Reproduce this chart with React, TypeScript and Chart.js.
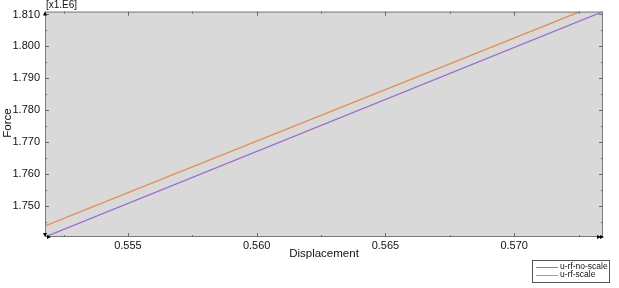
import { useEffect, useRef } from 'react';
import { Chart, registerables } from 'chart.js';

Chart.register(...registerables);

const seriesNames = ['u-rf-no-scale', 'u-rf-scale'];
const purpleDisp = [0.55178, 0.57345];
const purpleForce = [1.7403e6, 1.8109e6];
const orangeDisp = [0.55178, 0.57256];
const orangeForce = [1.7438e6, 1.8109e6];

const xMajorTicks = [0.555, 0.56, 0.565, 0.57];
const xMinorTicks = [0.5525, 0.5575, 0.5625, 0.5675, 0.5725];
const xTickLabels = ['0.555', '0.560', '0.565', '0.570'];
const yMajorTicks = [1.75e6, 1.76e6, 1.77e6, 1.78e6, 1.79e6, 1.8e6, 1.81e6];
const yMinorTicks = [1.745e6, 1.755e6, 1.765e6, 1.775e6, 1.785e6, 1.795e6, 1.805e6];
const yTickLabels = ['1.750', '1.760', '1.770', '1.780', '1.790', '1.800', '1.810'];

const xRange = [0.55178, 0.57345];
const yRange = [1.7403e6, 1.8109e6];

const colors = ['#9a6ccb', '#e28c55'];
const FONT = "'Liberation Sans', Arial, sans-serif";

const decorPlugin = {
  id: 'decor',
  beforeDatasetsDraw(chart: any) {
    const { ctx, chartArea: a } = chart;
    ctx.save();
    ctx.fillStyle = '#d9d9d9';
    ctx.fillRect(a.left, a.top, a.right - a.left, a.bottom - a.top);
    ctx.restore();
  },
  afterDraw(chart: any) {
    const { ctx, chartArea: a } = chart;
    const xs = chart.scales.x;
    const ys = chart.scales.y;
    ctx.save();
    // border
    ctx.strokeStyle = '#7a7a7a';
    ctx.lineWidth = 1;
    ctx.strokeRect(a.left + 0.5, a.top + 0.5, a.right - a.left - 1, a.bottom - a.top - 1);
    // ticks
    const tick = (vals: number[], len: number) => {
      ctx.beginPath();
      for (const v of vals) {
        const px = Math.round(xs.getPixelForValue(v)) + 0.5;
        ctx.moveTo(px, a.bottom);
        ctx.lineTo(px, a.bottom - len);
        ctx.moveTo(px, a.top);
        ctx.lineTo(px, a.top + len);
      }
      ctx.stroke();
    };
    const tickY = (vals: number[], len: number) => {
      ctx.beginPath();
      for (const v of vals) {
        const py = Math.round(ys.getPixelForValue(v)) + 0.5;
        ctx.moveTo(a.left, py);
        ctx.lineTo(a.left + len, py);
        ctx.moveTo(a.right, py);
        ctx.lineTo(a.right - len, py);
      }
      ctx.stroke();
    };
    ctx.strokeStyle = '#6a6a6a';
    tick(xMajorTicks, 4);
    tick(xMinorTicks, 2);
    tickY(yMajorTicks, 4);
    tickY(yMinorTicks, 2);

    // corner markers
    ctx.fillStyle = '#000';
    const tri = (pts: number[][]) => {
      ctx.beginPath();
      ctx.moveTo(pts[0][0], pts[0][1]);
      for (let i = 1; i < pts.length; i++) ctx.lineTo(pts[i][0], pts[i][1]);
      ctx.closePath();
      ctx.fill();
    };
    const L = a.left, B = a.bottom, R = a.right, T = a.top;
    tri([[L - 2, T + 4], [L + 2, T + 4], [L, T]]);
    tri([[L - 2, B - 4], [L + 2, B - 4], [L, B]]);
    tri([[L + 2, B - 2], [L + 2, B + 2], [L + 6, B]]);
    tri([[R - 6, B - 2], [R - 6, B + 2], [R - 2, B]]);
    tri([[R - 3, B - 2], [R - 3, B + 2], [R + 1, B]]);

    // scale factor label
    ctx.fillStyle = '#111';
    ctx.font = `10px ${FONT}`;
    ctx.textAlign = 'left';
    ctx.textBaseline = 'middle';
    ctx.fillText('[x1.E6]', a.left + 1, 5);

    // axis titles
    ctx.font = `11.5px ${FONT}`;
    ctx.textAlign = 'center';
    ctx.textBaseline = 'middle';
    ctx.fillText('Displacement', (a.left + a.right) / 2, 254);
    ctx.save();
    ctx.translate(8, 123);
    ctx.rotate(-Math.PI / 2);
    ctx.fillText('Force', 0, 0);
    ctx.restore();

    // legend
    const bx = 532, by = 260, bw = 78, bh = 23;
    ctx.fillStyle = '#ffffff';
    ctx.fillRect(bx, by, bw, bh);
    ctx.strokeStyle = '#555';
    ctx.strokeRect(bx + 0.5, by + 0.5, bw - 1, bh - 1);
    ctx.font = `8.5px ${FONT}`;
    ctx.textAlign = 'left';
    ctx.textBaseline = 'middle';
    seriesNames.forEach((name, i) => {
      const yy = by + 7 + i * 8;
      ctx.strokeStyle = colors[i];
      ctx.lineWidth = 1;
      ctx.beginPath();
      ctx.moveTo(bx + 4, yy + 0.5);
      ctx.lineTo(bx + 26, yy + 0.5);
      ctx.stroke();
      ctx.fillStyle = '#111';
      ctx.fillText(name, bx + 28, yy);
    });
    ctx.restore();
  },
};

export default function App() {
  const ref = useRef<HTMLCanvasElement | null>(null);
  useEffect(() => {
    if (!ref.current) return;
    const chart = new Chart(ref.current, {
      type: 'line',
      data: {
        datasets: [
          {
            label: seriesNames[0],
            data: purpleDisp.map((x, i) => ({ x, y: purpleForce[i] })),
            borderColor: colors[0],
            borderWidth: 1.2,
            pointRadius: 0,
            tension: 0,
          },
          {
            label: seriesNames[1],
            data: orangeDisp.map((x, i) => ({ x, y: orangeForce[i] })),
            borderColor: colors[1],
            borderWidth: 1.2,
            pointRadius: 0,
            tension: 0,
          },
        ],
      },
      options: {
        animation: false,
        responsive: false,
        maintainAspectRatio: false,
        layout: { padding: { left: 0, top: 11, right: 16, bottom: 0 } },
        plugins: { legend: { display: false }, tooltip: { enabled: false } },
        scales: {
          x: {
            type: 'linear',
            min: xRange[0],
            max: xRange[1],
            grid: { display: false, drawTicks: false },
            border: { display: false },
            afterBuildTicks: (s: any) => {
              s.ticks = xMajorTicks.map((v) => ({ value: v }));
            },
            afterFit: (s: any) => {
              s.height = 51;
            },
            ticks: {
              autoSkip: false,
              maxRotation: 0,
              padding: 2,
              color: '#111',
              font: { family: FONT, size: 11 },
              callback: (v: any) => {
                const i = xMajorTicks.findIndex((t) => Math.abs(t - v) < 1e-9);
                return i >= 0 ? xTickLabels[i] : '';
              },
            },
          },
          y: {
            type: 'linear',
            min: yRange[0],
            max: yRange[1],
            grid: { display: false, drawTicks: false },
            border: { display: false },
            afterBuildTicks: (s: any) => {
              s.ticks = yMajorTicks.map((v) => ({ value: v }));
            },
            afterFit: (s: any) => {
              s.width = 45;
            },
            ticks: {
              autoSkip: false,
              padding: 5,
              color: '#111',
              font: { family: FONT, size: 11 },
              callback: (v: any) => {
                const i = yMajorTicks.findIndex((t) => Math.abs(t - v) < 1);
                return i >= 0 ? yTickLabels[i] : '';
              },
            },
          },
        },
      },
      plugins: [decorPlugin],
    });
    return () => chart.destroy();
  }, []);
  return (
    <div style={{ position: 'fixed', left: 0, top: 0, width: 619, height: 288, background: '#fff' }}>
      <canvas ref={ref} width={619} height={288} style={{ width: 619, height: 288 }} />
    </div>
  );
}
